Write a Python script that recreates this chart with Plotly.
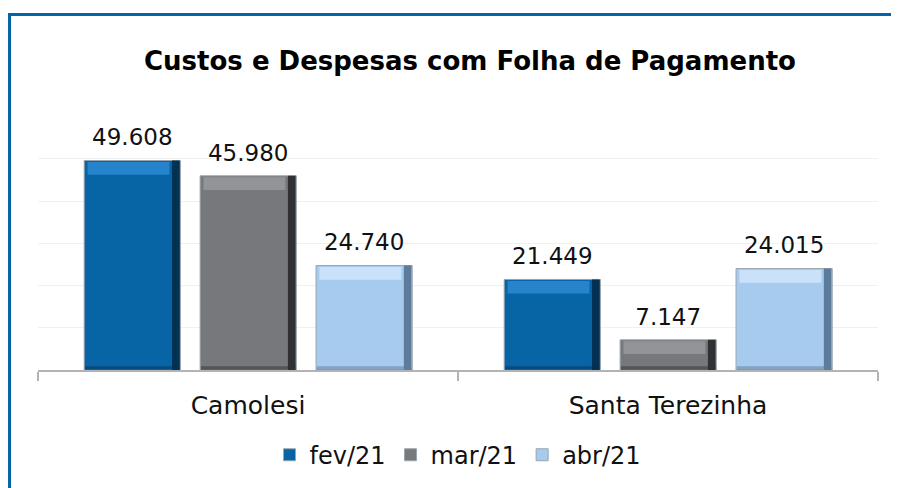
import plotly.graph_objects as go

categories = ["Camolesi", "Santa Terezinha"]
series_names = ["fev/21", "mar/21", "abr/21"]
fev_values = [49608, 21449]
mar_values = [45980, 7147]
abr_values = [24740, 24015]
value_labels = {
    "fev/21": ["49.608", "21.449"],
    "mar/21": ["45.980", "7.147"],
    "abr/21": ["24.740", "24.015"],
}
title_text = "Custos e Despesas com Folha de Pagamento"

main_col = {"fev/21": "#0865a5", "mar/21": "#77787c", "abr/21": "#a7cbef"}
light_col = {"fev/21": "#2584cb", "mar/21": "#939497", "abr/21": "#c9e2fa"}
dark_col = {"fev/21": "#033153", "mar/21": "#303134", "abr/21": "#5d7c9b"}
FONT = "DejaVu Sans"

BAR_W = 0.229
STEP = 0.276
OFF0 = -0.390
INSET = 0.008
TOP_H = 3000
BOT_H = 900
SIDE_W = 0.018
LABEL_PAD = 1700

series_vals = [fev_values, mar_values, abr_values]

fig = go.Figure()
# main bars
for i, (name, vals) in enumerate(zip(series_names, series_vals)):
    off = OFF0 + i * STEP
    fig.add_trace(go.Bar(
        x=categories, y=vals, name=name, width=BAR_W, offset=off,
        marker=dict(color=main_col[name], line=dict(color="#9aa4ae", width=1)),
    ))
# bevel decorations and labels
for i, (name, vals) in enumerate(zip(series_names, series_vals)):
    off = OFF0 + i * STEP
    fig.add_trace(go.Bar(
        x=categories, y=vals, width=SIDE_W, offset=off + BAR_W - SIDE_W - 0.002,
        marker=dict(color=dark_col[name], line=dict(width=0)),
        showlegend=False, hoverinfo="skip",
    ))
    fig.add_trace(go.Bar(
        x=categories, y=[BOT_H] * len(vals), base=[0] * len(vals),
        width=BAR_W - 0.004, offset=off + 0.002,
        marker=dict(color=dark_col[name], opacity=0.5, line=dict(width=0)),
        showlegend=False, hoverinfo="skip",
    ))
    fig.add_trace(go.Bar(
        x=categories, y=[TOP_H] * len(vals), base=[v - TOP_H - 350 for v in vals],
        width=BAR_W - 2 * INSET - SIDE_W, offset=off + INSET,
        marker=dict(color=light_col[name], line=dict(width=0)),
        showlegend=False, hoverinfo="skip",
    ))
    # value labels (transparent carrier placed just above each bar)
    fig.add_trace(go.Bar(
        x=categories, y=[LABEL_PAD] * len(vals), base=vals,
        width=BAR_W, offset=off,
        marker=dict(color="rgba(0,0,0,0)", line=dict(width=0)),
        text=value_labels[name], textposition="outside", cliponaxis=False,
        textfont=dict(family=FONT, size=23, color="#111111"),
        showlegend=False, hoverinfo="skip",
    ))

fig.update_layout(
    width=891, height=480,
    margin=dict(l=30, r=21, t=108, b=117),
    paper_bgcolor="white", plot_bgcolor="white",
    barmode="overlay",
    title=dict(text="<b>" + title_text + "</b>", x=0.5185, xanchor="center",
               y=0.89, yanchor="middle",
               font=dict(family=FONT, size=26, color="#000000")),
    showlegend=True,
    legend=dict(orientation="h", x=0.50, xanchor="center", y=-0.33, yanchor="middle",
                font=dict(family=FONT, size=24, color="#111111"),
                itemwidth=30, traceorder="normal"),
    xaxis=dict(showline=True, linecolor="#b3b3b3", linewidth=1.5,
               ticks="outside", tickson="boundaries", ticklen=9, tickcolor="#b3b3b3",
               tickwidth=1.5, ticklabelstandoff=12,
               tickfont=dict(family=FONT, size=25, color="#111111"),
               showgrid=False),
    yaxis=dict(range=[0, 60150], dtick=10000, showgrid=True, gridcolor="#f0f0f0",
               showticklabels=False, zeroline=False, showline=False),
    shapes=[dict(type="rect", xref="paper", yref="paper",
                 x0=-0.0339, x1=1.06, y0=-0.6, y1=1.40,
                 line=dict(color="#0563a8", width=3), fillcolor="rgba(0,0,0,0)",
                 layer="above")],
)

fig.write_html("out.html")
